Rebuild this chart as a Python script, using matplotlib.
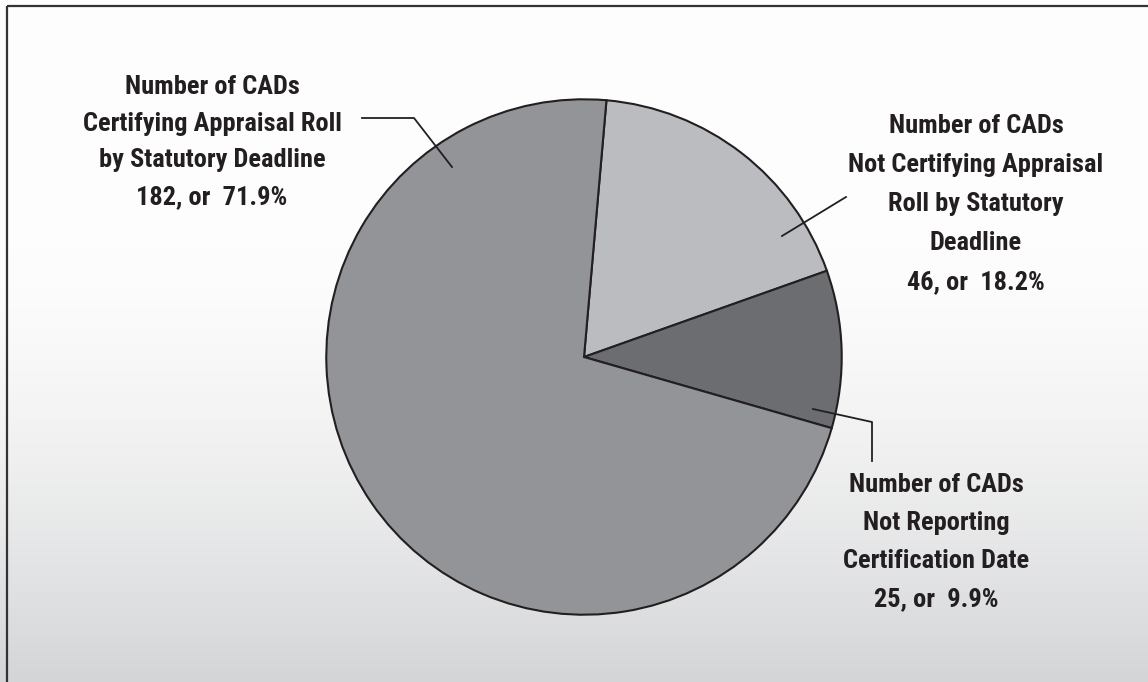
import numpy as np
import matplotlib.pyplot as plt
from matplotlib import font_manager
from matplotlib.patches import Rectangle

# CAD appraisal roll certification status
labels = [
    "Number of CADs\nNot Certifying Appraisal\nRoll by Statutory\nDeadline",
    "Number of CADs\nNot Reporting\nCertification Date",
    "Number of CADs\nCertifying Appraisal Roll\nby Statutory Deadline",
]
counts = [46, 25, 182]
percents = [18.2, 9.9, 71.9]
colors = ["#bbbcc0", "#6c6d71", "#939498"]

W, H = 1148, 682


def pick_font(cands):
    for name in cands:
        try:
            font_manager.findfont(name, fallback_to_default=False)
            return name
        except ValueError:
            pass
    return "DejaVu Sans"


FONT = pick_font(["Liberation Sans Narrow", "Roboto Condensed",
                  "DejaVu Sans Condensed", "Lato", "Roboto"])

fig = plt.figure(figsize=(W / 100, H / 100), dpi=100)

# background: white at top fading to light gray at the bottom
bg = fig.add_axes([0, 0, 1, 1])
rows = np.linspace(0, 1, H)
t = np.clip((rows * H - 250) / (H - 250), 0, 1) ** 1.5
top = np.array([253, 253, 253]) / 255
bot = np.array([212, 213, 215]) / 255
grad = top[None, :] * (1 - t[:, None]) + bot[None, :] * t[:, None]
bg.imshow(np.repeat(grad[:, None, :], 4, axis=1), aspect="auto",
          extent=[0, W, H, 0])
bg.set_xlim(0, W)
bg.set_ylim(H, 0)
bg.axis("off")
bg.add_patch(Rectangle((7, 6), W, H, fill=False, edgecolor="#333333",
                       linewidth=1.6))

# pie in its own axes, placed over the pixel grid
cx, cy, r = 584, 357, 259
pax = fig.add_axes([(cx - r) / W, (H - cy - r) / H, 2 * r / W, 2 * r / H])
pax.pie(counts, colors=colors, startangle=85, counterclock=False,
        wedgeprops=dict(edgecolor="#231f20", linewidth=1.5))
pax.set_xlim(-1.005, 1.005)
pax.set_ylim(-1.005, 1.005)
pax.set_aspect("equal")
pax.axis("off")

# overlay for labels and leader lines (y measured downward from top)
ax = fig.add_axes([0, 0, 1, 1])
ax.set_xlim(0, W)
ax.set_ylim(H, 0)
ax.axis("off")
ax.set_zorder(5)

# size the font so the widest line of the left label is ~262 px wide
renderer = fig.canvas.get_renderer()
probe = ax.text(0, 0, "Certifying Appraisal Roll", fontsize=10,
                fontweight="heavy", family=FONT)
pw = probe.get_window_extent(renderer).width
probe.remove()
fsize = min(19, 10 * 278 / pw)

txt = dict(ha="center", va="center", fontsize=fsize, fontweight="heavy",
           family=FONT, color="#231f20")
layout = [(976, 204, 39), (936, 542, 38), (212, 142, 37)]
for lab, n, p, (x, y, pitch) in zip(labels, counts, percents, layout):
    lines = lab.split("\n") + [f"{n}, or  {p}%"]
    y0 = y - pitch * (len(lines) - 1) / 2
    for i, line in enumerate(lines):
        ax.text(x, y0 + i * pitch, line, **txt)

# leader lines
lk = dict(color="#231f20", linewidth=1.3)
ax.plot([362, 414, 452], [118, 118, 167], **lk)
ax.plot([782, 846], [236, 197], **lk)
ax.plot([813, 872, 872], [409, 422, 461], **lk)

fig.savefig("out.png", dpi=100)
